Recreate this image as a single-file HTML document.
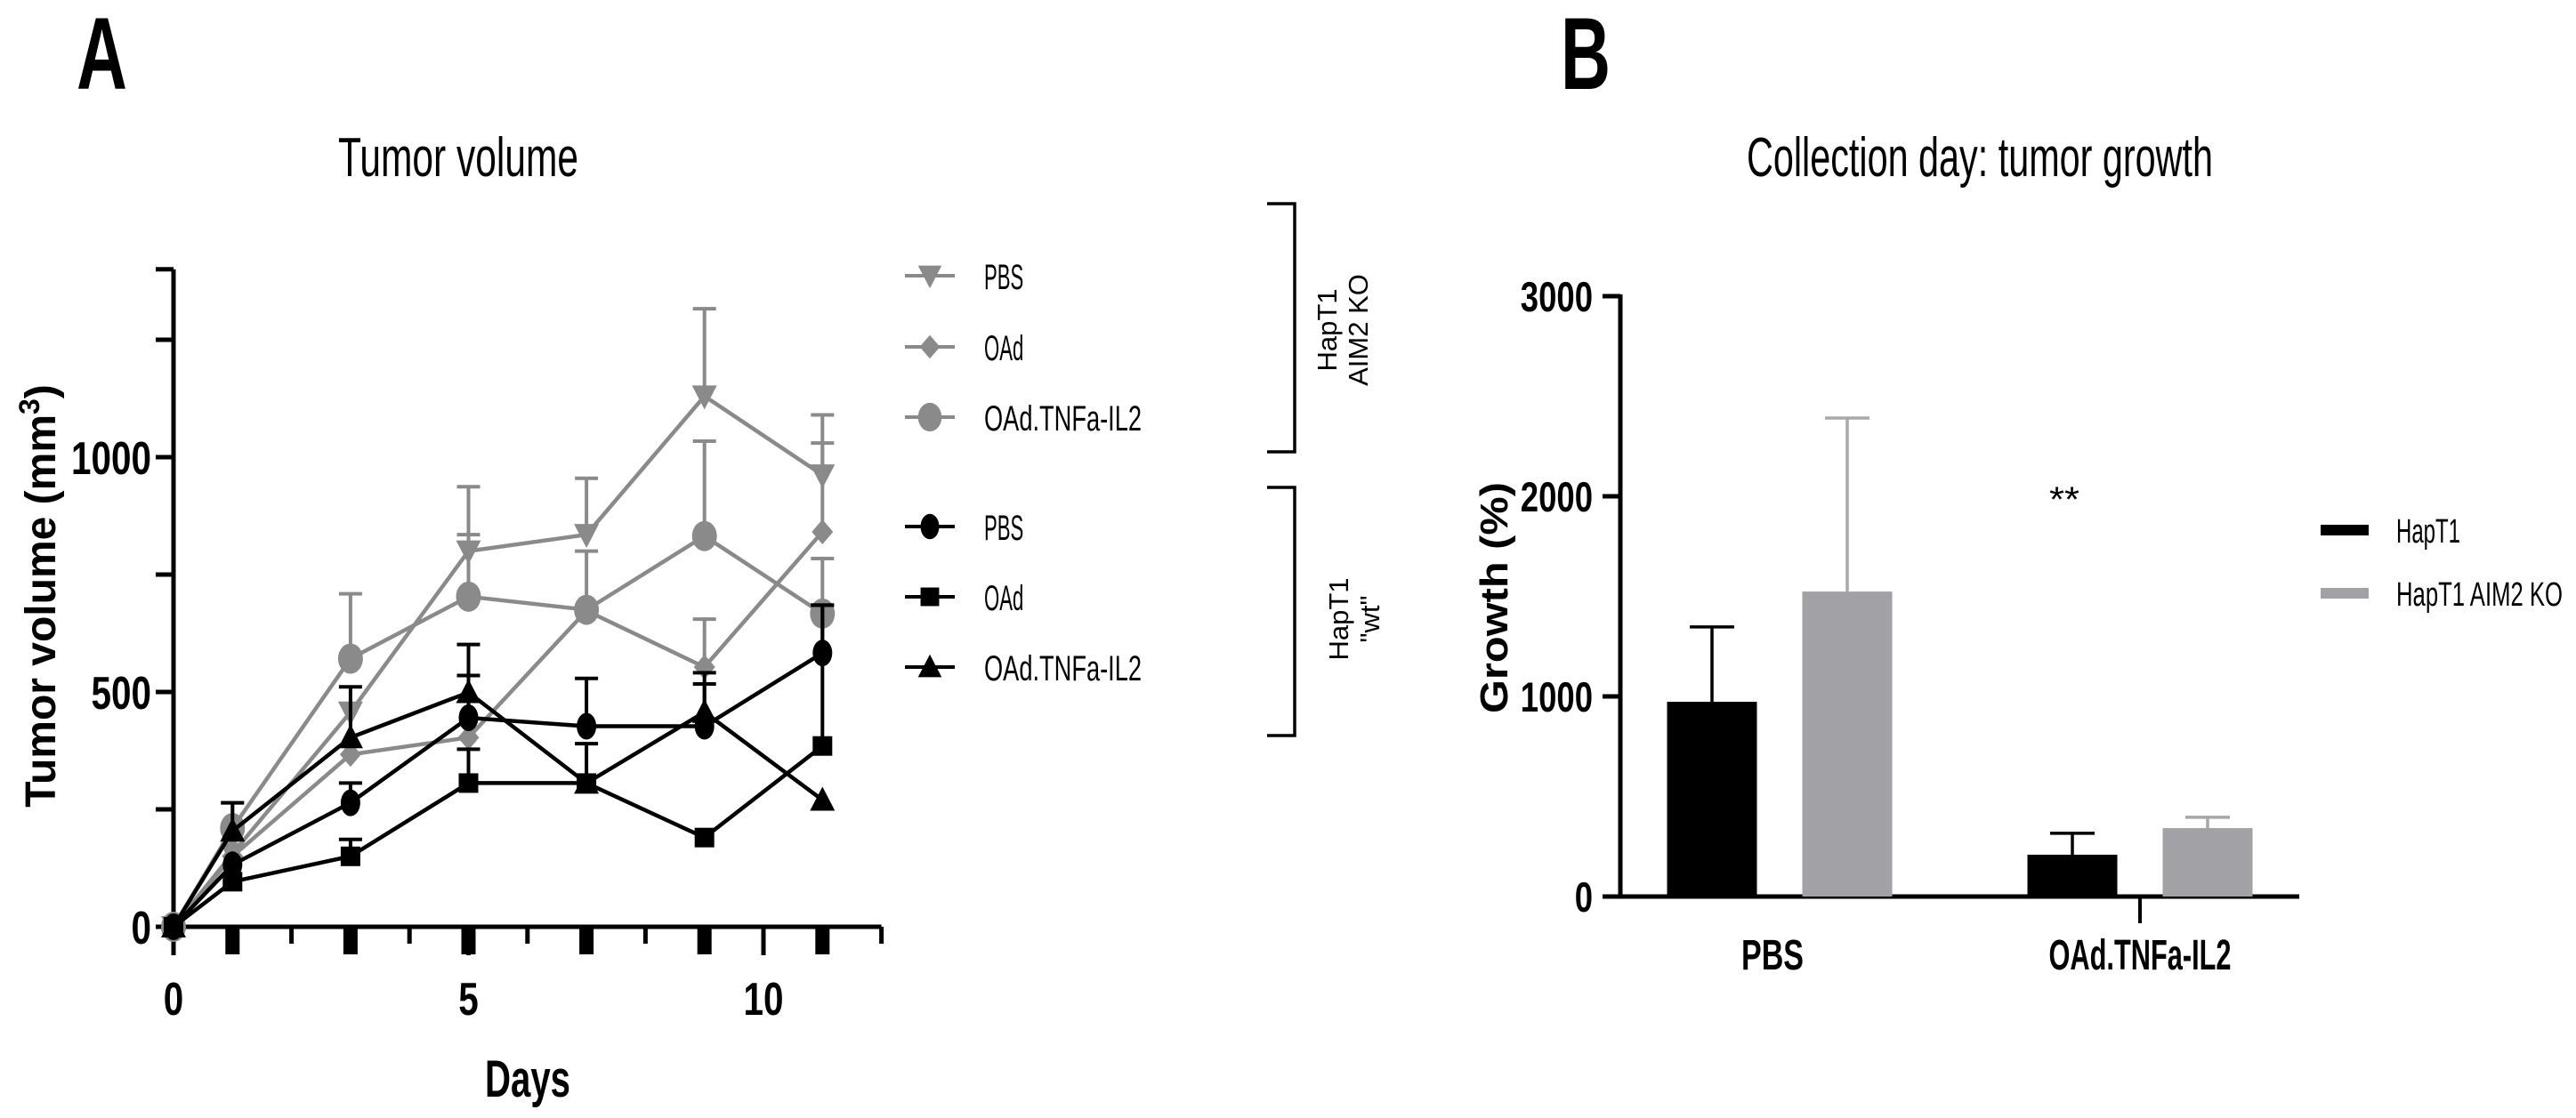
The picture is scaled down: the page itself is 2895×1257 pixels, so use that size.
<!DOCTYPE html>
<html><head><meta charset="utf-8"><style>
html,body{margin:0;padding:0;background:#fff;}
svg{display:block;font-family:"Liberation Sans",Arial,sans-serif;}
</style></head><body>
<svg id="fig" width="2895" height="1257" viewBox="0 0 2895 1257">
<rect x="0" y="0" width="2895" height="1257" fill="#fff"/>
<text x="86" y="100" font-size="115" font-weight="bold" textLength="57" lengthAdjust="spacingAndGlyphs">A</text>
<text x="1754" y="100" font-size="115" font-weight="bold" textLength="56" lengthAdjust="spacingAndGlyphs">B</text>
<text x="380" y="198" font-size="62" textLength="270" lengthAdjust="spacingAndGlyphs">Tumor volume</text>
<text x="1963" y="198" font-size="62" textLength="524" lengthAdjust="spacingAndGlyphs">Collection day: tumor growth</text>

<g id="chartA"></g>
<g id="chartB"></g>
</svg>
<script>
// ---------- Chart A data ----------
const daysA = [0, 1, 3, 5, 7, 9, 11];
const yTicksA = [0, 500, 1000];
const xTicksA = [0, 5, 10];
const koPBS = [0, 156, 457, 800, 835, 1130, 962];
const koPBSErr = [0, 0, 0, 137, 120, 186, 128];
const koOAd = [0, 150, 367, 403, 673, 553, 841];
const koOAdErr = [0, 0, 0, 0, 127, 102, 189];
const koTNF = [0, 210, 571, 703, 675, 832, 667];
const koTNFErr = [0, 54, 138, 132, 0, 202, 117];
const wtPBS = [0, 132, 264, 445, 427, 427, 583];
const wtPBSErr = [0, 0, 42, 90, 102, 90, 102];
const wtOAd = [0, 96, 150, 306, 306, 190, 385];
const wtOAdErr = [0, 0, 36, 72, 84, 0, 300];
const wtTNF = [0, 204, 403, 499, 306, 457, 270];
const wtTNFErr = [0, 60, 108, 102, 0, 84, 0];
// ---------- Chart B data ----------
const groupsB = ["PBS", "OAd.TNFa-IL2"];
const hapT1 = [973, 209];
const hapT1Err = [374, 107];
const hapKO = [1524, 342];
const hapKOErr = [867, 54];
const yTicksB = [0, 1000, 2000, 3000];

const NS = "http://www.w3.org/2000/svg";
function mk(parent, tag, attrs, text) {
  const e = document.createElementNS(NS, tag);
  for (const k in attrs) e.setAttribute(k, attrs[k]);
  if (text !== undefined) e.textContent = text;
  parent.appendChild(e);
  return e;
}
const GRAY = "#8a8a8a";

// ---------- Chart A ----------
const A = document.getElementById("chartA");
const ax0 = 195, ay0 = 1042, pxDay = 66.3, pxUnit = 0.528;
const xA = d => ax0 + d * pxDay;
const yA = v => ay0 - v * pxUnit;
const axisTop = yA(1400), axisRight = xA(12);

let yax = mk(A, "line", {x1: ax0, y1: axisTop, x2: ax0, y2: ay0 + 2, stroke: "#000", "stroke-width": 5});


let xax = mk(A, "line", {x1: ax0 - 2, y1: ay0, x2: axisRight, y2: ay0, stroke: "#000", "stroke-width": 5});


for (let v = 0; v <= 1250; v += 250) {
  let t = mk(A, "line", {x1: ax0 - 20, y1: yA(v), x2: ax0, y2: yA(v), stroke: "#000", "stroke-width": 5});
  
  
}
let topTick = mk(A, "line", {x1: ax0 - 20, y1: axisTop, x2: ax0, y2: axisTop, stroke: "#000", "stroke-width": 5});


yTicksA.forEach(v => {
  const w = String(v).length * 22.5;
  let t = mk(A, "text", {x: ax0 - 25 - w, y: yA(v) + 19, "font-size": 52, "font-weight": "bold", textLength: w, lengthAdjust: "spacingAndGlyphs"}, String(v));
  
  
});
for (let d = 1; d <= 12; d++) {
  const major = d % 5 === 0;
  let t = mk(A, "line", {x1: xA(d), y1: ay0, x2: xA(d), y2: ay0 + (major ? 32 : 19), stroke: "#000", "stroke-width": 5});
  
  
}
let t0 = mk(A, "line", {x1: ax0, y1: ay0, x2: ax0, y2: ay0 + 32, stroke: "#000", "stroke-width": 5});


daysA.slice(1).forEach(d => {
  let r = mk(A, "rect", {x: xA(d) - 8, y: ay0, width: 16, height: 31, fill: "#000"});
  
  
});
xTicksA.forEach(d => {
  const w = String(d).length * 22.5;
  let t = mk(A, "text", {x: xA(d) - w / 2, y: 1141, "font-size": 52, "font-weight": "bold", textLength: w, lengthAdjust: "spacingAndGlyphs"}, String(d));
  
  
});
let xt = mk(A, "text", {x: 545, y: 1233, "font-size": 58, "font-weight": "bold", textLength: 96, lengthAdjust: "spacingAndGlyphs"}, "Days");


let yt = mk(A, "text", {x: 0, y: 0, "font-size": 48, "font-weight": "bold", "text-anchor": "middle", transform: "translate(62,670) rotate(-90)"});


yt.innerHTML = 'Tumor volume (mm<tspan dy="-18" font-size="32">3</tspan><tspan dy="18">)</tspan>';

function marker(g, type, cx, cy, color, scale) {
  const s = scale || 1;
  let e;
  if (type === "tri-down") e = mk(g, "polygon", {points: `${cx - 14 * s},${cy - 12 * s} ${cx + 14 * s},${cy - 12 * s} ${cx},${cy + 15 * s}`, fill: color});
  else if (type === "tri-up") e = mk(g, "polygon", {points: `${cx - 14 * s},${cy + 12 * s} ${cx + 14 * s},${cy + 12 * s} ${cx},${cy - 15 * s}`, fill: color});
  else if (type === "diamond") e = mk(g, "polygon", {points: `${cx},${cy - 14 * s} ${cx + 12 * s},${cy} ${cx},${cy + 14 * s} ${cx - 12 * s},${cy}`, fill: color});
  else if (type === "circle-big") e = mk(g, "ellipse", {cx: cx, cy: cy, rx: 14 * s, ry: 17 * s, fill: color});
  else if (type === "circle") e = mk(g, "ellipse", {cx: cx, cy: cy, rx: 11 * s, ry: 15 * s, fill: color});
  else if (type === "square") e = mk(g, "rect", {x: cx - 11 * s, y: cy - 11 * s, width: 22 * s, height: 22 * s, fill: color});
  return e;
}
const seriesA = [
  {vals: koPBS, err: koPBSErr, color: GRAY, m: "tri-down", name: "ko-pbs"},
  {vals: koOAd, err: koOAdErr, color: GRAY, m: "diamond", name: "ko-oad"},
  {vals: koTNF, err: koTNFErr, color: GRAY, m: "circle-big", name: "ko-oad-tnfa-il2"},
  {vals: wtPBS, err: wtPBSErr, color: "#000", m: "circle", name: "wt-pbs"},
  {vals: wtOAd, err: wtOAdErr, color: "#000", m: "square", name: "wt-oad"},
  {vals: wtTNF, err: wtTNFErr, color: "#000", m: "tri-up", name: "wt-oad-tnfa-il2"}
];
seriesA.forEach(s => {
  const g = mk(A, "g", {});
  
  
  daysA.forEach((d, i) => {
    if (s.err[i] > 0) {
      const top = yA(s.vals[i] + s.err[i]);
      let e = mk(g, "path", {d: `M${xA(d)},${yA(s.vals[i])} V${top} M${xA(d) - 13},${top} H${xA(d) + 13}`, stroke: s.color, "stroke-width": 4, fill: "none"});
      
      
    }
  });
  const pts = daysA.map((d, i) => `${xA(d)},${yA(s.vals[i])}`).join(" ");
  let pl = mk(g, "polyline", {points: pts, stroke: s.color, "stroke-width": 4.5, fill: "none"});
  
  
  daysA.forEach((d, i) => {
    let m = marker(g, s.m, xA(d), yA(s.vals[i]), s.color);
    
    
  });
});
// legend A
const legLabels = ["PBS", "OAd", "OAd.TNFa-IL2", "PBS", "OAd", "OAd.TNFa-IL2"];
const legY = [310, 390, 469, 592, 671, 750];
seriesA.forEach((s, i) => {
  const g = mk(A, "g", {});
  
  
  mk(g, "line", {x1: 1017, y1: legY[i], x2: 1073, y2: legY[i], stroke: s.color, "stroke-width": 4});
  marker(g, s.m, 1045, legY[i], s.color, 0.95);
  const w = legLabels[i].length * 14.75;
  mk(g, "text", {x: 1106, y: legY[i] + 15, "font-size": 40, textLength: w, lengthAdjust: "spacingAndGlyphs"}, legLabels[i]);
});
let br1 = mk(A, "path", {d: "M1424,229 H1455 V508 H1424", stroke: "#000", "stroke-width": 3.5, fill: "none"});


let br2 = mk(A, "path", {d: "M1424,548 H1455 V827 H1424", stroke: "#000", "stroke-width": 3.5, fill: "none"});


let g1 = mk(A, "text", {x: 0, y: 0, "font-size": 31, "text-anchor": "middle", transform: "translate(1502,371) rotate(-90)"});


g1.innerHTML = '<tspan x="0" dy="0">HapT1</tspan><tspan x="0" dy="35">AIM2 KO</tspan>';
let g2 = mk(A, "text", {x: 0, y: 0, "font-size": 31, "text-anchor": "middle", transform: "translate(1515,696) rotate(-90)"});


g2.innerHTML = '<tspan x="0" dy="0">HapT1</tspan><tspan x="0" dy="35">"wt"</tspan>';

// ---------- Chart B ----------
const B = document.getElementById("chartB");
const bx0 = 1821, by0 = 1008, bUnit = 0.225;
const yB = v => by0 - v * bUnit;
const groupCenter = [2000, 2405];
const barW = 101, barOff = 76;
let byax = mk(B, "line", {x1: bx0, y1: yB(3000) - 2, x2: bx0, y2: by0 + 2, stroke: "#000", "stroke-width": 5});


let bxax = mk(B, "line", {x1: bx0 - 2, y1: by0, x2: 2584, y2: by0, stroke: "#000", "stroke-width": 5});


yTicksB.forEach(v => {
  let t = mk(B, "line", {x1: bx0 - 20, y1: yB(v), x2: bx0, y2: yB(v), stroke: "#000", "stroke-width": 5});
  
  
  const w = String(v).length * 20.3;
  let l = mk(B, "text", {x: 1790 - w, y: yB(v) + 17, "font-size": 47, "font-weight": "bold", textLength: w, lengthAdjust: "spacingAndGlyphs"}, String(v));
  
  
});
let btk = mk(B, "line", {x1: groupCenter[1], y1: by0, x2: groupCenter[1], y2: by0 + 30, stroke: "#000", "stroke-width": 4});


groupsB.forEach((gname, i) => {
  const w = gname === "PBS" ? 70 : 205;
  let l = mk(B, "text", {x: groupCenter[i] - w / 2 - (i === 0 ? 8 : 0), y: 1090, "font-size": 48, "font-weight": "bold", textLength: w, lengthAdjust: "spacingAndGlyphs"}, gname);
  
  
  [[hapT1, hapT1Err, "#000", "#000", -1, "hapt1"], [hapKO, hapKOErr, "#a2a2a6", "#a8a8a8", 1, "hapt1-aim2-ko"]].forEach(([vals, errs, fill, ecol, side, nm]) => {
    const cx = groupCenter[i] + side * barOff;
    const top = yB(vals[i] + errs[i]);
    let e = mk(B, "path", {d: `M${cx},${yB(vals[i])} V${top} M${cx - 25},${top} H${cx + 25}`, stroke: ecol, "stroke-width": 3.5, fill: "none"});
    
    
    let r = mk(B, "rect", {x: cx - barW / 2, y: yB(vals[i]), width: barW, height: by0 - yB(vals[i]), fill: fill});
    
    
  });
});
let st = mk(B, "text", {x: 2303, y: 575, "font-size": 40, textLength: 34, lengthAdjust: "spacingAndGlyphs"}, "**");


let byt = mk(B, "text", {x: 0, y: 0, "font-size": 44, "font-weight": "bold", "text-anchor": "middle", textLength: 260, lengthAdjust: "spacingAndGlyphs", transform: "translate(1694,672) rotate(-90)"}, "Growth (%)");


const legB = [["HapT1", "#000", 596, 72], ["HapT1 AIM2 KO", "#a2a2a6", 667, 187]];
legB.forEach(([lab, col, y, w]) => {
  const g = mk(B, "g", {});
  
  
  mk(g, "rect", {x: 2608, y: y - 6, width: 54, height: 12, fill: col});
  mk(g, "text", {x: 2693, y: y + 14, "font-size": 38, textLength: w, lengthAdjust: "spacingAndGlyphs"}, lab);
});
</script>
</body></html>
